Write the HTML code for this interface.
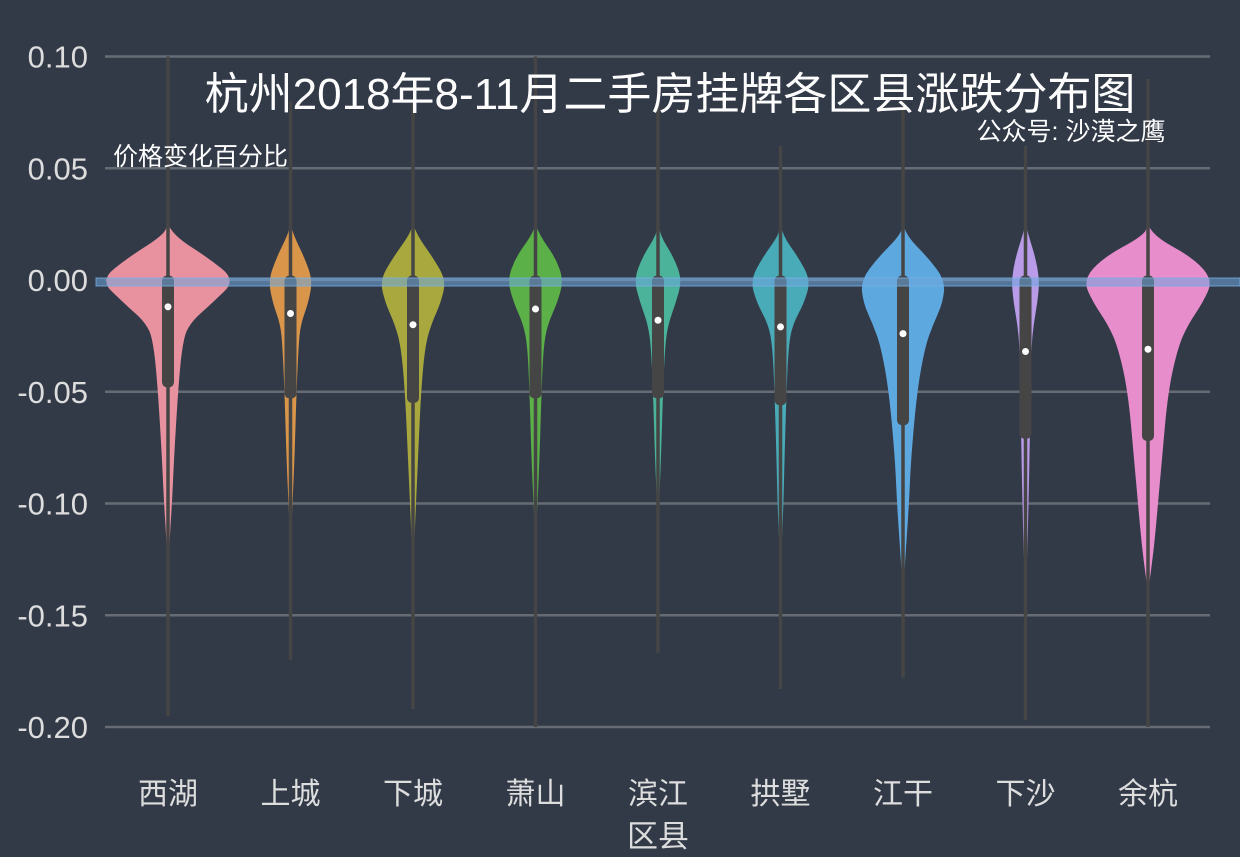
<!DOCTYPE html>
<html><head><meta charset="utf-8"><style>
html,body{margin:0;padding:0;background:#323a48;}
svg{display:block;font-family:"Liberation Sans","Noto Sans CJK SC",sans-serif;}
</style></head><body>
<svg id="c" width="1240" height="857">
<rect width="1240" height="857" fill="#323a48"/>
<g id="grid"></g><g id="violins"></g><g id="labels"></g>
<rect x="96" y="278" width="1144" height="8" fill="rgba(110,165,220,0.55)" stroke="rgba(120,175,230,0.8)" stroke-width="1"/>
<text x="670" y="109" fill="#ffffff" font-size="44" text-anchor="middle">杭州2018年8-11月二手房挂牌各区县涨跌分布图</text>
<text x="1071" y="140" fill="#ffffff" font-size="25" text-anchor="middle">公众号: 沙漠之鹰</text>
<text x="113" y="165" fill="#ffffff" font-size="25">价格变化百分比</text>
<text x="658" y="847" fill="#dddddd" font-size="31" text-anchor="middle">区县</text>
</svg>
<script>
const categories=["西湖","上城","下城","萧山","滨江","拱墅","江干","下沙","余杭"];
const colors=["#e8919f","#d9954a","#a8a83e","#5cb048","#4bb39a","#4aabb8","#5ea8e0","#b99be8","#e78dcc"];
const yTicks=[0.10,0.05,0.00,-0.05,-0.10,-0.15,-0.20];
const yTickLabels=["0.10","0.05","0.00","-0.05","-0.10","-0.15","-0.20"];
const profileLevels=[0.025,0.02,0.01,0,-0.01,-0.02,-0.03,-0.05,-0.08,-0.1,-0.12,-0.14];
const densities=[
[0,5,40,68,45,20,14,10,6,4,1,0],
[0,3,14,22,18,10,8,6,4,2,0,0],
[0,4,20,33,28,18,12,8,5,3,1,0],
[0,4,20,28,22,12,8,6,4,2,0,0],
[0,2,16,24,18,10,7,5,3,1,0,0],
[0,2,18,30,24,12,8,6,4,3,1,0],
[0,3,25,42,40,30,22,14,8,6,3,0],
[0,3,10,14,12,8,6,5,4,3,2,0],
[0,4,45,65,55,40,30,20,14,10,6,0]];
const q3=[0.002,0.002,0.002,0.002,0.002,0.002,0.002,0.002,0.002];
const q1=[-0.048,-0.053,-0.055,-0.053,-0.053,-0.056,-0.065,-0.071,-0.072];
const medians=[-0.012,-0.015,-0.020,-0.013,-0.018,-0.021,-0.024,-0.032,-0.031];
const maxs=[0.10,0.08,0.08,0.10,0.08,0.06,0.08,0.06,0.09];
const mins=[-0.195,-0.17,-0.192,-0.20,-0.167,-0.183,-0.178,-0.197,-0.20];
const NS="http://www.w3.org/2000/svg";
const y=v=>280-v*2235;
const x=i=>168+i*122.5;
function mk(t,a,p){const e=document.createElementNS(NS,t);for(const k in a)e.setAttribute(k,a[k]);p.appendChild(e);return e;}
const grid=document.getElementById('grid'),lab=document.getElementById('labels'),vg=document.getElementById('violins');
yTicks.forEach((t,i)=>{
 const l=mk('line',{x1:105,x2:1210,y1:y(t),y2:y(t),stroke:'#676c74','stroke-width':2.5},grid);
 
 
 const tx=mk('text',{x:88,y:y(t)+11,fill:'#dddddd','font-size':31,'text-anchor':'end'},lab);
 tx.textContent=yTickLabels[i];
 
 
});
categories.forEach((c,i)=>{
 const cx=x(i);
 const g=mk('g',{},vg);
 
 
 const R=profileLevels.map((v,k)=>[cx+densities[i][k],y(v)]);
 const L=profileLevels.map((v,k)=>[cx-densities[i][k],y(v)]).reverse();
 const pts=R.concat(L);
 let d='M'+pts[0][0]+','+pts[0][1];
 for(let k=1;k<pts.length-1;k++){const m=[(pts[k][0]+pts[k+1][0])/2,(pts[k][1]+pts[k+1][1])/2];d+=' Q'+pts[k][0]+','+pts[k][1]+' '+m[0]+','+m[1];}
 d+=' L'+pts[pts.length-1][0]+','+pts[pts.length-1][1]+'Z';
 const p=mk('path',{d:d,fill:colors[i]},g);
 
 
 const w=mk('line',{x1:cx,x2:cx,y1:y(maxs[i]),y2:y(mins[i]),stroke:'#454545','stroke-width':3.5},g);
 
 
 const b=mk('rect',{x:cx-6,y:y(q3[i]),width:12,height:y(q1[i])-y(q3[i]),rx:5,fill:'#454545'},g);
 
 
 const m=mk('circle',{cx:cx,cy:y(medians[i]),r:3.5,fill:'#ffffff'},g);
 
 
 const t=mk('text',{x:cx,y:804,fill:'#dddddd','font-size':30,'text-anchor':'middle'},lab);
 t.textContent=c;
 
 
});
</script>
</body></html>
